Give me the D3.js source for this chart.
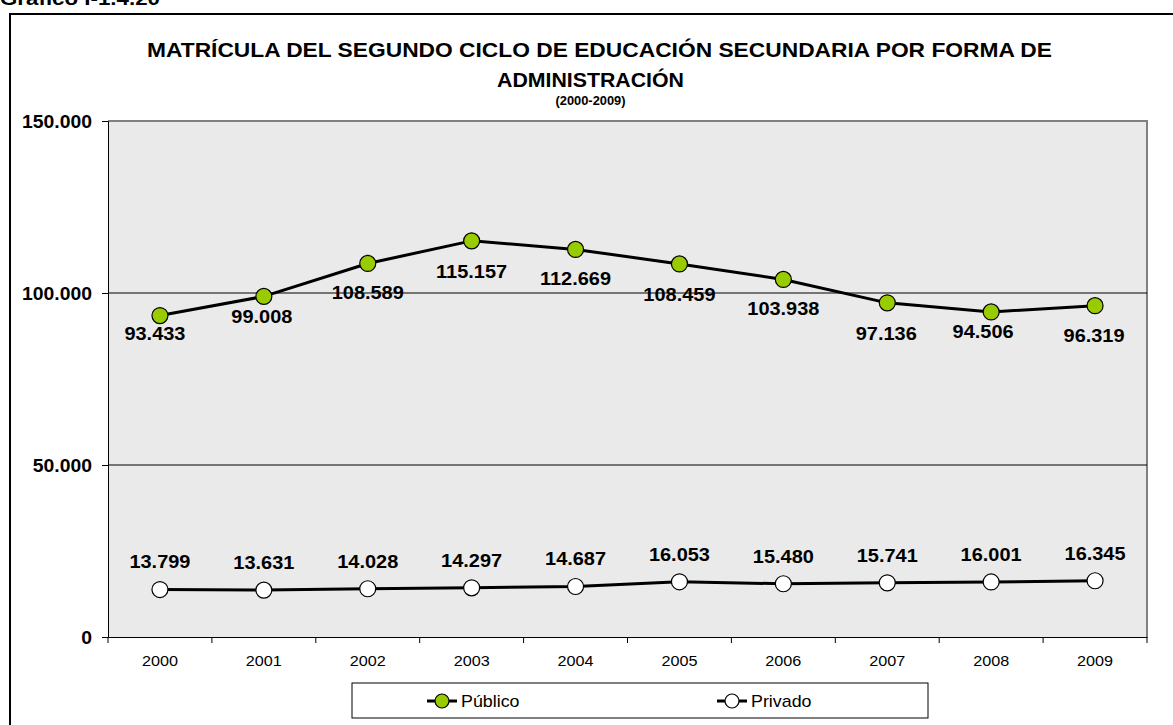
<!DOCTYPE html>
<html lang="es">
<head>
<meta charset="utf-8">
<title>Matrícula del segundo ciclo de educación secundaria por forma de administración</title>
<script src="https://cdn.jsdelivr.net/npm/d3@7"></script>
<style>
  html, body { margin: 0; padding: 0; background: #ffffff; }
  svg { display: block; font-family: Arial, "Liberation Sans", sans-serif; }
</style>
</head>
<body>
<svg id="chart" width="1173" height="725"></svg>
<script>
// Enrolment figures, 2000-2009
const years = ["2000", "2001", "2002", "2003", "2004", "2005", "2006", "2007", "2008", "2009"];
const publico = [93433, 99008, 108589, 115157, 112669, 108459, 103938, 97136, 94506, 96319];
const privado = [13799, 13631, 14028, 14297, 14687, 16053, 15480, 15741, 16001, 16345];
const yTicks = [0, 50000, 100000, 150000];
const seriesNames = ["Público", "Privado"];

// Hand placement of the value labels (pixels relative to each marker)
const publicoLabelDy = [18, 20, 29, 30, 29, 30, 29, 30, 19, 29];
const publicoLabelDx = [-5, -2, 0, 0, 0, 0, 0, -1, -8, -1];
const privadoLabelDy = -28;

const fmt = d3.formatLocale({ decimal: ",", thousands: ".", grouping: [3], currency: ["", ""] }).format(",d");

// Stretch a text selection horizontally by factor k
function widen(sel, k) {
  sel.each(function () {
    const w = this.getComputedTextLength();
    d3.select(this).attr("textLength", w * k).attr("lengthAdjust", "spacingAndGlyphs");
  });
}

const svg = d3.select("#chart");

const plot = { left: 108, top: 121, right: 1147, bottom: 637 };

const x = d3.scaleBand().domain(years).range([plot.left, plot.right]).padding(0);
const y = d3.scaleLinear().domain([0, 150000]).range([plot.bottom, plot.top]);
const cx = d => x(d) + x.bandwidth() / 2;

// Figure caption (partly above the page edge)
svg.append("text")
  .attr("x", 0).attr("y", 5)
  .attr("font-size", 19).attr("font-weight", "bold")
  .attr("textLength", 160).attr("lengthAdjust", "spacingAndGlyphs")
  .text("Gráfico I-1.4.20");

// Outer frame
svg.append("rect")
  .attr("x", 10).attr("y", 14)
  .attr("width", 1300).attr("height", 900)
  .attr("fill", "none").attr("stroke", "#000").attr("stroke-width", 2);

// Titles
svg.append("text")
  .attr("x", 599.5).attr("y", 57)
  .attr("text-anchor", "middle").attr("font-size", 21).attr("font-weight", "bold")
  .attr("textLength", 905).attr("lengthAdjust", "spacingAndGlyphs")
  .text("MATRÍCULA DEL SEGUNDO CICLO DE EDUCACIÓN SECUNDARIA POR FORMA DE");
svg.append("text")
  .attr("x", 590.5).attr("y", 87)
  .attr("text-anchor", "middle").attr("font-size", 21).attr("font-weight", "bold")
  .attr("textLength", 187).attr("lengthAdjust", "spacingAndGlyphs")
  .text("ADMINISTRACIÓN");
svg.append("text")
  .attr("x", 590.5).attr("y", 105)
  .attr("text-anchor", "middle").attr("font-size", 12).attr("font-weight", "bold")
  .attr("textLength", 70).attr("lengthAdjust", "spacingAndGlyphs")
  .text("(2000-2009)");

// Plot background
svg.append("rect")
  .attr("x", plot.left).attr("y", plot.top)
  .attr("width", plot.right - plot.left).attr("height", plot.bottom - plot.top)
  .attr("fill", "#eaeaea");

// Gray frame on top and right edges of the plot area
svg.append("path")
  .attr("d", `M${plot.left},${plot.top}H${plot.right}V${plot.bottom}`)
  .attr("fill", "none").attr("stroke", "#808080").attr("stroke-width", 2);

// Horizontal gridlines
svg.append("g")
  .selectAll("line")
  .data(yTicks.filter(v => v > 0 && v < 150000))
  .join("line")
  .attr("x1", plot.left).attr("x2", plot.right)
  .attr("y1", d => y(d)).attr("y2", d => y(d))
  .attr("stroke", "#000").attr("stroke-width", 1);

// Y axis
const yAxis = svg.append("g")
  .attr("transform", `translate(${plot.left},0)`)
  .call(d3.axisLeft(y).tickValues(yTicks).tickFormat(fmt).tickSize(6).tickPadding(10));
yAxis.select(".domain").attr("stroke", "#000");
yAxis.selectAll("text")
  .attr("font-size", 19).attr("font-weight", "bold").attr("fill", "#000")
  .attr("font-family", "Arial, 'Liberation Sans', sans-serif")
  .call(widen, 1.02);

// X axis: labels centred in each category, ticks on category boundaries
const xAxis = svg.append("g")
  .attr("transform", `translate(0,${plot.bottom})`)
  .call(d3.axisBottom(x).tickSize(0).tickPadding(18));
xAxis.select(".domain").attr("stroke", "#000");
xAxis.selectAll("text")
  .attr("font-size", 15).attr("font-weight", "normal").attr("fill", "#000")
  .attr("font-family", "Arial, 'Liberation Sans', sans-serif")
  .call(widen, 1.08);
xAxis.append("g")
  .selectAll("line")
  .data(years.map(d => x(d)).concat([plot.right]))
  .join("line")
  .attr("x1", d => d).attr("x2", d => d)
  .attr("y1", 0).attr("y2", 6)
  .attr("stroke", "#000");

// Lines
const line = d3.line().x((d, i) => cx(years[i])).y(d => y(d));

function drawSeries(values, fill) {
  svg.append("path")
    .datum(values)
    .attr("d", line)
    .attr("fill", "none").attr("stroke", "#000").attr("stroke-width", 3)
    .attr("stroke-linejoin", "round");
  svg.append("g")
    .selectAll("circle")
    .data(values)
    .join("circle")
    .attr("cx", (d, i) => cx(years[i]))
    .attr("cy", d => y(d))
    .attr("r", 8)
    .attr("fill", fill).attr("stroke", "#000").attr("stroke-width", 1.2);
}

drawSeries(publico, "#99cc00");
drawSeries(privado, "#ffffff");

// Value labels
svg.append("g")
  .selectAll("text")
  .data(publico)
  .join("text")
  .attr("x", (d, i) => cx(years[i]) + publicoLabelDx[i])
  .attr("y", (d, i) => y(d) + publicoLabelDy[i])
  .attr("dy", "0.36em")
  .attr("text-anchor", "middle").attr("font-size", 19).attr("font-weight", "bold")
  .text(d => fmt(d))
  .call(widen, 1.05);

svg.append("g")
  .selectAll("text")
  .data(privado)
  .join("text")
  .attr("x", (d, i) => cx(years[i]))
  .attr("y", d => y(d) + privadoLabelDy)
  .attr("dy", "0.36em")
  .attr("text-anchor", "middle").attr("font-size", 19).attr("font-weight", "bold")
  .text(d => fmt(d))
  .call(widen, 1.05);

// Legend
const legend = svg.append("g");
legend.append("rect")
  .attr("x", 352).attr("y", 683).attr("width", 576).attr("height", 35)
  .attr("fill", "#fff").attr("stroke", "#000").attr("stroke-width", 1);

const legendItems = [
  { name: seriesNames[0], fill: "#99cc00", x: 442 },
  { name: seriesNames[1], fill: "#ffffff", x: 732 }
];
const li = legend.selectAll("g.item").data(legendItems).join("g").attr("class", "item");
li.append("line")
  .attr("x1", d => d.x - 15).attr("x2", d => d.x + 15)
  .attr("y1", 701).attr("y2", 701)
  .attr("stroke", "#000").attr("stroke-width", 3);
li.append("circle")
  .attr("cx", d => d.x).attr("cy", 701).attr("r", 7)
  .attr("fill", d => d.fill).attr("stroke", "#000").attr("stroke-width", 1.2);
li.append("text")
  .attr("x", d => d.x + 19).attr("y", 701).attr("dy", "0.36em")
  .attr("font-size", 17)
  .text(d => d.name)
  .call(widen, 1.05);
</script>
</body>
</html>
